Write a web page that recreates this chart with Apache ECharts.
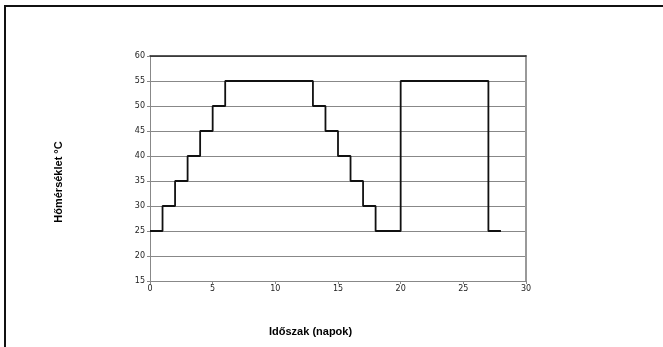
<!DOCTYPE html>
<html>
<head>
<meta charset="utf-8">
<script src="https://cdn.jsdelivr.net/npm/echarts@6/dist/echarts.min.js"></script>
<style>
  html, body { margin: 0; padding: 0; background: #fff; }
  #chart { width: 663px; height: 347px; }
</style>
</head>
<body>
<div id="chart"></div>
<script>
// Temperature schedule: day at which each step starts, and the temperature held from then on
const days  = [0, 1, 2, 3, 4, 5, 6, 13, 14, 15, 16, 17, 18, 20, 27, 28];
const temps = [25, 30, 35, 40, 45, 50, 55, 50, 45, 40, 35, 30, 25, 55, 25, 25];

const xTitle = 'Időszak (napok)';
const yTitle = 'Hőmérséklet °C';

const labelFont = { fontFamily: '"DejaVu Sans", sans-serif', fontSize: 8, color: '#222' };

const chart = echarts.init(document.getElementById('chart'), null, { renderer: 'canvas' });

chart.setOption({
  animation: false,
  backgroundColor: '#fff',
  grid: { left: 150, right: 137, top: 56, bottom: 66, containLabel: false },
  graphic: [
    {
      type: 'rect',
      shape: { x: 5, y: 6, width: 700, height: 400 },
      style: { fill: 'none', stroke: '#111', lineWidth: 2 },
      silent: true
    },
    {
      type: 'text',
      left: 269, top: 326,
      style: { text: xTitle, font: 'bold 11px "Liberation Sans", Arial, sans-serif', fill: '#000' }
    },
    {
      type: 'text',
      x: 59, y: 182,
      rotation: Math.PI / 2,
      style: { text: yTitle, font: 'bold 11px "Liberation Sans", Arial, sans-serif', fill: '#000', align: 'center', verticalAlign: 'middle' }
    }
  ],
  xAxis: [
    {
      type: 'value', min: 0, max: 30, interval: 5,
      axisLine: { show: true, lineStyle: { color: '#888', width: 1 } },
      axisTick: { show: true, length: 3, lineStyle: { color: '#888' } },
      axisLabel: Object.assign({ margin: 4 }, labelFont),
      splitLine: { show: false }
    },
    {
      type: 'value', min: 0, max: 30, position: 'top',
      axisLine: { show: true, onZero: false, lineStyle: { color: '#222', width: 1.5 } },
      axisTick: { show: false }, axisLabel: { show: false }, splitLine: { show: false }
    }
  ],
  yAxis: [
    {
      type: 'value', min: 15, max: 60, interval: 5,
      axisLine: { show: true, onZero: false, lineStyle: { color: '#888', width: 1 } },
      axisTick: { show: true, length: 3, lineStyle: { color: '#888' } },
      axisLabel: Object.assign({ margin: 5 }, labelFont),
      splitLine: { show: true, lineStyle: { color: '#888', width: 1 } }
    },
    {
      type: 'value', min: 15, max: 60, position: 'right',
      axisLine: { show: true, onZero: false, lineStyle: { color: '#999', width: 2 } },
      axisTick: { show: false }, axisLabel: { show: false }, splitLine: { show: false }
    }
  ],
  series: [
    {
      type: 'line',
      step: 'end',
      data: days.map((d, i) => [d, temps[i]]),
      symbol: 'none',
      lineStyle: { color: '#111', width: 1.8 },
      z: 5
    }
  ]
});
</script>
</body>
</html>
